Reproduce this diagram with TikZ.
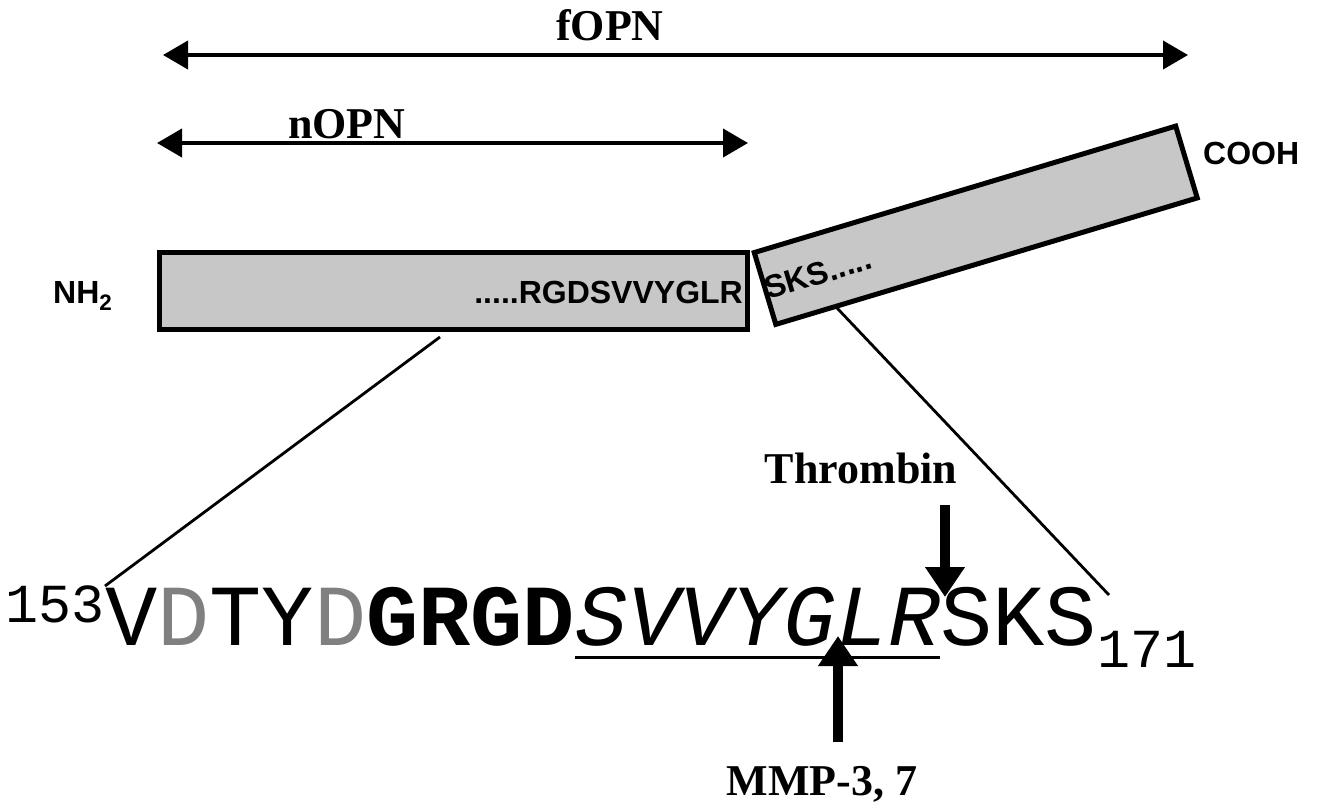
\documentclass[tikz,border=0pt]{standalone}
\usepackage{fontspec}
\setmainfont{Liberation Serif}
\setsansfont{Liberation Sans}
\setmonofont{Liberation Mono}
\usetikzlibrary{arrows.meta}

\begin{document}
\begin{tikzpicture}[x=1pt,y=-1pt,
  span/.style={line width=4pt, {Triangle[length=25pt,width=28pt]}-{Triangle[length=25pt,width=28pt]}},
  lbl/.style={font=\fontsize{44}{48}\selectfont\bfseries, inner sep=0pt},
  tag/.style={font=\fontsize{32}{34}\selectfont\sffamily\bfseries, inner sep=0pt},
  protbox/.style={draw, line width=5pt, fill=black!22, inner sep=0pt},
  cut/.style={line width=10pt, -{Triangle[length=30pt,width=38pt]}},
  zoomline/.style={line width=2.8pt},
  seq/.style={font=\fontsize{87}{90}\selectfont\ttfamily, inner sep=0pt},
  resnum/.style={font=\fontsize{55}{60}\selectfont\ttfamily, inner sep=0pt}
]
% canvas
\fill[white] (0,0) rectangle (1326,807);
\useasboundingbox (0,0) rectangle (1326,807);

% extent of full-length and N-terminal fragment
\coordinate (fL) at (163,55);
\coordinate (fR) at (1188,55);
\coordinate (nL) at (157,143);
\coordinate (nR) at (748,143);
\draw[span] (fL) -- (fR);
\draw[span] (nL) -- (nR);
\node[lbl, anchor=base west] (fopn) at (556,40) {fOPN};
\node[lbl, anchor=base west] (nopn) at (288,138) {nOPN};

% N-terminal domain
\node[protbox, minimum width=588pt, minimum height=77pt] (nterm) at (453.5,291) {};
\node[tag, anchor=base east] (nseq) at (743,303) {.....RGDSVVYGLR};
\node[tag, anchor=base west] (nh2) at (53,303) {NH\textsubscript{2}};

% C-terminal domain, tilted
\node[protbox, rotate=16.7, minimum width=440pt, minimum height=75pt] (cterm) at (975.75,225.25) {};
\node[tag, rotate=16.7, anchor=base west] (cseq) at (768,300) {SKS.....};
\node[tag, anchor=base west] (cooh) at (1203,164) {COOH};

% zoom lines to the sequence
\coordinate (zA) at (440,337);
\coordinate (zB) at (105,586);
\coordinate (zC) at (837,308);
\coordinate (zD) at (1109,595);
\draw[zoomline] (zA) -- (zB);
\draw[zoomline] (zC) -- (zD);

% sequence 153-171
\node[resnum, anchor=base east] (n153) at (105,622) {153};
\node[seq, anchor=base west] (seq) at (105,645)
  {V\textcolor{black!50}{D}TY\textcolor{black!50}{D}\textbf{GRGD}\textit{SVVYGLR}SKS};
\node[resnum, anchor=base west] (n171) at (1097,667) {171};
\coordinate (ulA) at (575,657);
\coordinate (ulB) at (940,657);
\draw[line width=3pt] (ulA) -- (ulB);

% cleavage sites
\node[lbl, anchor=base] (thr) at (861,483) {Thrombin};
\coordinate (thrT) at (945,505);
\coordinate (thrH) at (945,597);
\draw[cut] (thrT) -- (thrH);
\node[lbl, anchor=base] (mmp) at (822,795) {MMP-3, 7};
\coordinate (mmpT) at (838,742);
\coordinate (mmpH) at (838,636);
\draw[cut] (mmpT) -- (mmpH);
\end{tikzpicture}
\end{document}
